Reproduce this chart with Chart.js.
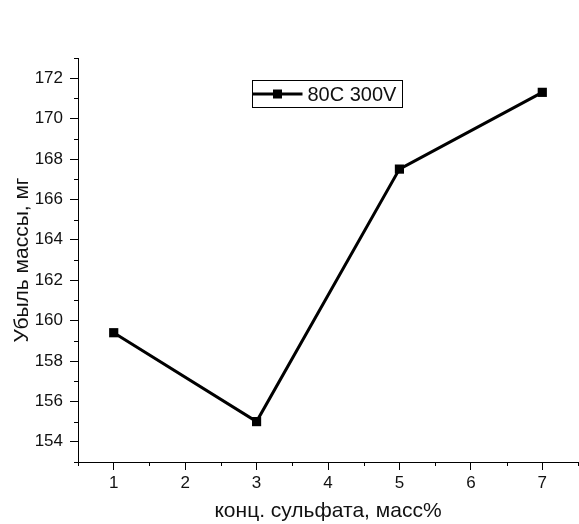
<!DOCTYPE html>
<html>
<head>
<meta charset="utf-8">
<script src="https://cdn.jsdelivr.net/npm/chart.js@4/dist/chart.umd.min.js"></script>
<style>
  body { margin: 0; background: #fff; }
</style>
</head>
<body>
<canvas id="myChart" width="579" height="524"></canvas>
<script>
// data
const concentrations = [1, 3, 5, 7];
const massLoss = [159.4, 155.0, 167.5, 171.3];
const seriesLabel = '80C 300V';
const xTickValues = [1, 2, 3, 4, 5, 6, 7];
const yTickValues = [154, 156, 158, 160, 162, 164, 166, 168, 170, 172];
const xMinorValues = [0.5, 1.5, 2.5, 3.5, 4.5, 5.5, 6.5, 7.5];
const yMinorValues = [153, 155, 157, 159, 161, 163, 165, 167, 169, 171, 173];

const FONT = "'Liberation Sans', Arial, sans-serif";

// small ticks between the labelled ones
const minorTicks = {
  id: 'minorTicks',
  afterDraw(chart) {
    const ctx = chart.ctx;
    const xs = chart.scales.x, ys = chart.scales.y;
    const area = chart.chartArea;
    ctx.save();
    ctx.strokeStyle = '#000';
    ctx.lineWidth = 1;
    ctx.beginPath();
    xMinorValues.forEach(v => {
      const px = Math.min(Math.round(xs.getPixelForValue(v)) + 0.5, chart.width - 0.5);
      ctx.moveTo(px, area.bottom);
      ctx.lineTo(px, area.bottom + 4);
    });
    yMinorValues.forEach(v => {
      const py = Math.round(ys.getPixelForValue(v)) + 0.5;
      ctx.moveTo(area.left, py);
      ctx.lineTo(area.left - 4, py);
    });
    ctx.stroke();
    ctx.restore();
  }
};

// boxed legend inside the plot
const boxLegend = {
  id: 'boxLegend',
  afterDraw(chart) {
    const ctx = chart.ctx;
    const ds = chart.data.datasets[0];
    const area = chart.chartArea;
    const x = area.left + 174.5, y = area.top + 22.5, w = 150, h = 27;
    const my = y + h / 2;
    ctx.save();
    ctx.fillStyle = '#fff';
    ctx.fillRect(x, y, w, h);
    ctx.strokeStyle = '#000';
    ctx.lineWidth = 1;
    ctx.strokeRect(x, y, w, h);
    ctx.lineWidth = 3;
    ctx.beginPath();
    ctx.moveTo(x, my);
    ctx.lineTo(x + 50, my);
    ctx.stroke();
    ctx.fillStyle = '#000';
    ctx.fillRect(x + 25 - 4.5, my - 4.5, 9, 9);
    ctx.font = '20px ' + FONT;
    ctx.textBaseline = 'middle';
    ctx.fillStyle = '#111';
    ctx.fillText(ds.label, x + 55, my + 1);
    ctx.restore();
  }
};

const ctx = document.getElementById('myChart').getContext('2d');

const myChart = new Chart(ctx, {
  type: 'line',
  data: {
    datasets: [{
      label: seriesLabel,
      data: concentrations.map((c, i) => ({ x: c, y: massLoss[i] })),
      borderColor: '#000',
      backgroundColor: '#000',
      borderWidth: 3,
      tension: 0,
      pointStyle: 'rect',
      pointRadius: 6.5,
      pointBorderWidth: 0,
      pointBackgroundColor: '#000'
    }]
  },
  options: {
    responsive: false,
    animation: false,
    layout: { autoPadding: false, padding: { top: 58, right: 1, left: 0, bottom: 0 } },
    plugins: {
      legend: { display: false },
      tooltip: { enabled: false }
    },
    scales: {
      x: {
        type: 'linear',
        min: 0.5,
        max: 7.5,
        afterBuildTicks: s => { s.ticks = xTickValues.map(v => ({ value: v })); },
        afterFit: s => { s.height = 62; },
        grid: { drawOnChartArea: false, drawTicks: true, tickLength: 8, tickColor: '#000', tickWidth: 1 },
        border: { display: true, color: '#000', width: 1 },
        ticks: { color: '#111', padding: 3, maxRotation: 0, font: { family: FONT, size: 17 } },
        title: {
          display: true,
          text: 'конц. сульфата, масс%',
          color: '#111',
          padding: { top: 0, bottom: 0 },
          font: { family: FONT, size: 21 }
        }
      },
      y: {
        min: 153,
        max: 173,
        afterBuildTicks: s => { s.ticks = yTickValues.map(v => ({ value: v })); },
        afterFit: s => { s.width = 78; },
        grid: { drawOnChartArea: false, drawTicks: true, tickLength: 8, tickColor: '#000', tickWidth: 1 },
        border: { display: true, color: '#000', width: 1 },
        ticks: { color: '#111', padding: 7, font: { family: FONT, size: 17 } },
        title: {
          display: true,
          text: 'Убыль массы, мг',
          color: '#111',
          padding: { top: 10, bottom: 0 },
          font: { family: FONT, size: 21 }
        }
      }
    }
  },
  plugins: [minorTicks, boxLegend]
});
</script>
</body>
</html>
